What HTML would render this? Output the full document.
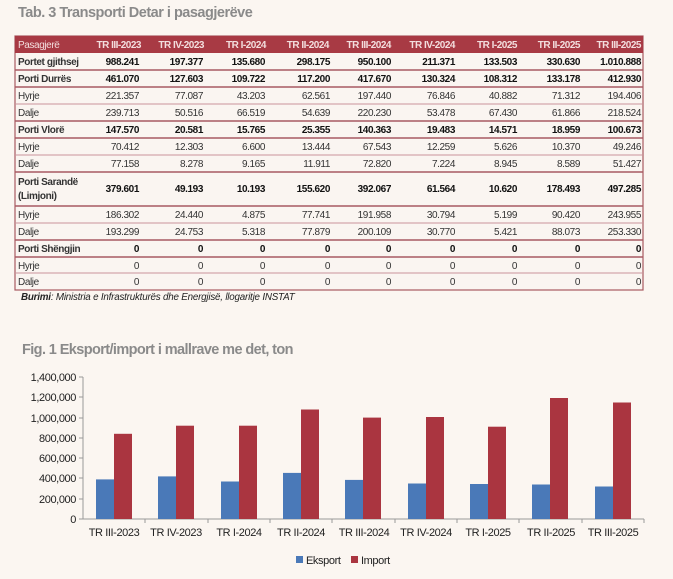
<!DOCTYPE html>
<html><head><meta charset="utf-8"><style>
html,body{margin:0;padding:0;background:#fbf6f1;}
svg{display:block;font-family:"Liberation Sans",sans-serif;}
.n{font-size:10px;fill:#333;text-anchor:end;letter-spacing:-0.4px}
.b{font-weight:bold;fill:#111}
.l{font-size:10px;fill:#333;letter-spacing:-0.4px}
.h{font-size:10px;fill:#f3dede;text-anchor:end;font-weight:bold;letter-spacing:-0.5px}
.ax{font-size:11px;fill:#222;letter-spacing:-0.4px}
</style></head><body>
<svg width="673" height="579" viewBox="0 0 673 579" xmlns="http://www.w3.org/2000/svg">
<rect width="673" height="579" fill="#fbf6f1"/>
<text x="18" y="17" font-size="14.5" font-weight="bold" fill="#8a8a8a" letter-spacing="-0.5">Tab. 3 Transporti Detar i pasagjerëve</text>
<rect x="15" y="36" width="628" height="254" fill="#faf5f1" stroke="#a85a62" stroke-width="1.2"/>
<rect x="15" y="36" width="628" height="17" fill="#a83a44"/>
<text x="18" y="48" class="l" style="fill:#f3dede">Pasagjerë</text>
<g class="h">
<text x="141" y="48">TR III-2023</text><text x="204" y="48">TR IV-2023</text><text x="266" y="48">TR I-2024</text><text x="329" y="48">TR II-2024</text><text x="391" y="48">TR III-2024</text><text x="455" y="48">TR IV-2024</text><text x="517" y="48">TR I-2025</text><text x="580" y="48">TR II-2025</text><text x="641" y="48">TR III-2025</text>
</g>
<g stroke="#c9939a" stroke-width="1">
<line x1="15" y1="70" x2="643" y2="70" stroke="#a85a62" stroke-width="1.5"/>
<line x1="15" y1="87" x2="643" y2="87" stroke="#a85a62" stroke-width="1.5"/>
<line x1="15" y1="104" x2="643" y2="104"/>
<line x1="15" y1="121" x2="643" y2="121" stroke="#a85a62" stroke-width="1.5"/>
<line x1="15" y1="138" x2="643" y2="138" stroke="#a85a62" stroke-width="1.5"/>
<line x1="15" y1="155" x2="643" y2="155"/>
<line x1="15" y1="172" x2="643" y2="172" stroke="#a85a62" stroke-width="1.5"/>
<line x1="15" y1="206" x2="643" y2="206" stroke="#a85a62" stroke-width="1.5"/>
<line x1="15" y1="223" x2="643" y2="223"/>
<line x1="15" y1="240" x2="643" y2="240" stroke="#a85a62" stroke-width="1.5"/>
<line x1="15" y1="257" x2="643" y2="257" stroke="#a85a62" stroke-width="1.5"/>
<line x1="15" y1="273" x2="643" y2="273"/>
</g>
<text x="18" y="65" class="l b">Portet gjithsej</text>
<text x="18" y="82" class="l b">Porti Durrës</text>
<text x="18" y="99" class="l">Hyrje</text>
<text x="18" y="116" class="l">Dalje</text>
<text x="18" y="133" class="l b">Porti Vlorë</text>
<text x="18" y="150" class="l">Hyrje</text>
<text x="18" y="167" class="l">Dalje</text>
<text x="18" y="185" class="l b">Porti Sarandë</text>
<text x="18" y="199" class="l b">(Limjoni)</text>
<text x="18" y="218" class="l">Hyrje</text>
<text x="18" y="235" class="l">Dalje</text>
<text x="18" y="252" class="l b">Porti Shëngjin</text>
<text x="18" y="269" class="l">Hyrje</text>
<text x="18" y="285" class="l">Dalje</text>
<g class="n">
<g class="b"><text x="139" y="65">988.241</text><text x="203" y="65">197.377</text><text x="265" y="65">135.680</text><text x="330" y="65">298.175</text><text x="391" y="65">950.100</text><text x="455" y="65">211.371</text><text x="517" y="65">133.503</text><text x="580" y="65">330.630</text><text x="641" y="65">1.010.888</text></g>
<g class="b"><text x="139" y="82">461.070</text><text x="203" y="82">127.603</text><text x="265" y="82">109.722</text><text x="330" y="82">117.200</text><text x="391" y="82">417.670</text><text x="455" y="82">130.324</text><text x="517" y="82">108.312</text><text x="580" y="82">133.178</text><text x="641" y="82">412.930</text></g>
<g><text x="139" y="99">221.357</text><text x="203" y="99">77.087</text><text x="265" y="99">43.203</text><text x="330" y="99">62.561</text><text x="391" y="99">197.440</text><text x="455" y="99">76.846</text><text x="517" y="99">40.882</text><text x="580" y="99">71.312</text><text x="641" y="99">194.406</text></g>
<g><text x="139" y="116">239.713</text><text x="203" y="116">50.516</text><text x="265" y="116">66.519</text><text x="330" y="116">54.639</text><text x="391" y="116">220.230</text><text x="455" y="116">53.478</text><text x="517" y="116">67.430</text><text x="580" y="116">61.866</text><text x="641" y="116">218.524</text></g>
<g class="b"><text x="139" y="133">147.570</text><text x="203" y="133">20.581</text><text x="265" y="133">15.765</text><text x="330" y="133">25.355</text><text x="391" y="133">140.363</text><text x="455" y="133">19.483</text><text x="517" y="133">14.571</text><text x="580" y="133">18.959</text><text x="641" y="133">100.673</text></g>
<g><text x="139" y="150">70.412</text><text x="203" y="150">12.303</text><text x="265" y="150">6.600</text><text x="330" y="150">13.444</text><text x="391" y="150">67.543</text><text x="455" y="150">12.259</text><text x="517" y="150">5.626</text><text x="580" y="150">10.370</text><text x="641" y="150">49.246</text></g>
<g><text x="139" y="167">77.158</text><text x="203" y="167">8.278</text><text x="265" y="167">9.165</text><text x="330" y="167">11.911</text><text x="391" y="167">72.820</text><text x="455" y="167">7.224</text><text x="517" y="167">8.945</text><text x="580" y="167">8.589</text><text x="641" y="167">51.427</text></g>
<g class="b"><text x="139" y="192">379.601</text><text x="203" y="192">49.193</text><text x="265" y="192">10.193</text><text x="330" y="192">155.620</text><text x="391" y="192">392.067</text><text x="455" y="192">61.564</text><text x="517" y="192">10.620</text><text x="580" y="192">178.493</text><text x="641" y="192">497.285</text></g>
<g><text x="139" y="218">186.302</text><text x="203" y="218">24.440</text><text x="265" y="218">4.875</text><text x="330" y="218">77.741</text><text x="391" y="218">191.958</text><text x="455" y="218">30.794</text><text x="517" y="218">5.199</text><text x="580" y="218">90.420</text><text x="641" y="218">243.955</text></g>
<g><text x="139" y="235">193.299</text><text x="203" y="235">24.753</text><text x="265" y="235">5.318</text><text x="330" y="235">77.879</text><text x="391" y="235">200.109</text><text x="455" y="235">30.770</text><text x="517" y="235">5.421</text><text x="580" y="235">88.073</text><text x="641" y="235">253.330</text></g>
<g class="b"><text x="139" y="252">0</text><text x="203" y="252">0</text><text x="265" y="252">0</text><text x="330" y="252">0</text><text x="391" y="252">0</text><text x="455" y="252">0</text><text x="517" y="252">0</text><text x="580" y="252">0</text><text x="641" y="252">0</text></g>
<g><text x="139" y="269">0</text><text x="203" y="269">0</text><text x="265" y="269">0</text><text x="330" y="269">0</text><text x="391" y="269">0</text><text x="455" y="269">0</text><text x="517" y="269">0</text><text x="580" y="269">0</text><text x="641" y="269">0</text></g>
<g><text x="139" y="285">0</text><text x="203" y="285">0</text><text x="265" y="285">0</text><text x="330" y="285">0</text><text x="391" y="285">0</text><text x="455" y="285">0</text><text x="517" y="285">0</text><text x="580" y="285">0</text><text x="641" y="285">0</text></g>
</g>
<text x="21" y="300" font-size="9.8" font-style="italic" fill="#222" letter-spacing="-0.2"><tspan font-weight="bold">Burimi</tspan>: Ministria e Infrastrukturës dhe Energjisë, llogaritje INSTAT</text>
<text x="22" y="354" font-size="14.5" font-weight="bold" fill="#8a8a8a" letter-spacing="-0.6">Fig. 1 Eksport/import i mallrave me det, ton</text>
<g class="ax" text-anchor="end">
<text x="76" y="523">0</text><text x="76" y="503">200,000</text><text x="76" y="482">400,000</text><text x="76" y="462">600,000</text><text x="76" y="442">800,000</text><text x="76" y="422">1,000,000</text><text x="76" y="401">1,200,000</text><text x="76" y="381">1,400,000</text>
</g>
<g stroke="#999" stroke-width="1">
<line x1="83" y1="377" x2="83" y2="519"/>
<line x1="83" y1="519" x2="644" y2="519"/>
<line x1="79" y1="377" x2="83" y2="377"/><line x1="79" y1="397" x2="83" y2="397"/><line x1="79" y1="418" x2="83" y2="418"/><line x1="79" y1="438" x2="83" y2="438"/><line x1="79" y1="458" x2="83" y2="458"/><line x1="79" y1="478" x2="83" y2="478"/><line x1="79" y1="499" x2="83" y2="499"/><line x1="79" y1="519" x2="83" y2="519"/>
<line x1="145" y1="519" x2="145" y2="523"/><line x1="208" y1="519" x2="208" y2="523"/><line x1="270" y1="519" x2="270" y2="523"/><line x1="332" y1="519" x2="332" y2="523"/><line x1="395" y1="519" x2="395" y2="523"/><line x1="457" y1="519" x2="457" y2="523"/><line x1="519" y1="519" x2="519" y2="523"/><line x1="582" y1="519" x2="582" y2="523"/><line x1="644" y1="519" x2="644" y2="523"/>
</g>
<g fill="#4a79b8">
<rect x="96" y="479.4" width="18" height="39.6"/>
<rect x="158" y="476.4" width="18" height="42.6"/>
<rect x="221" y="481.5" width="18" height="37.5"/>
<rect x="283" y="472.9" width="18" height="46.1"/>
<rect x="345" y="479.9" width="18" height="39.1"/>
<rect x="408" y="483.5" width="18" height="35.5"/>
<rect x="470" y="484" width="18" height="35"/>
<rect x="532" y="484.5" width="18" height="34.5"/>
<rect x="595" y="486.5" width="18" height="32.5"/>
</g>
<g fill="#aa3540">
<rect x="114" y="433.8" width="18" height="85.2"/>
<rect x="176" y="425.7" width="18" height="93.3"/>
<rect x="239" y="425.7" width="18" height="93.3"/>
<rect x="301" y="409.5" width="18" height="109.5"/>
<rect x="363" y="417.6" width="18" height="101.4"/>
<rect x="426" y="417" width="18" height="102"/>
<rect x="488" y="426.7" width="18" height="92.3"/>
<rect x="550" y="398" width="18" height="121"/>
<rect x="613" y="402.5" width="18" height="116.5"/>
</g>
<g class="ax" text-anchor="middle">
<text x="114" y="536">TR III-2023</text><text x="176" y="536">TR IV-2023</text><text x="239" y="536">TR I-2024</text><text x="301" y="536">TR II-2024</text><text x="364" y="536">TR III-2024</text><text x="426" y="536">TR IV-2024</text><text x="488" y="536">TR I-2025</text><text x="551" y="536">TR II-2025</text><text x="613" y="536">TR III-2025</text>
</g>
<rect x="296" y="556" width="7" height="7" fill="#4a79b8"/>
<text x="306" y="564" class="ax">Eksport</text>
<rect x="351" y="556" width="7" height="7" fill="#aa3540"/>
<text x="361" y="564" class="ax">Import</text>
</svg>
</body></html>
